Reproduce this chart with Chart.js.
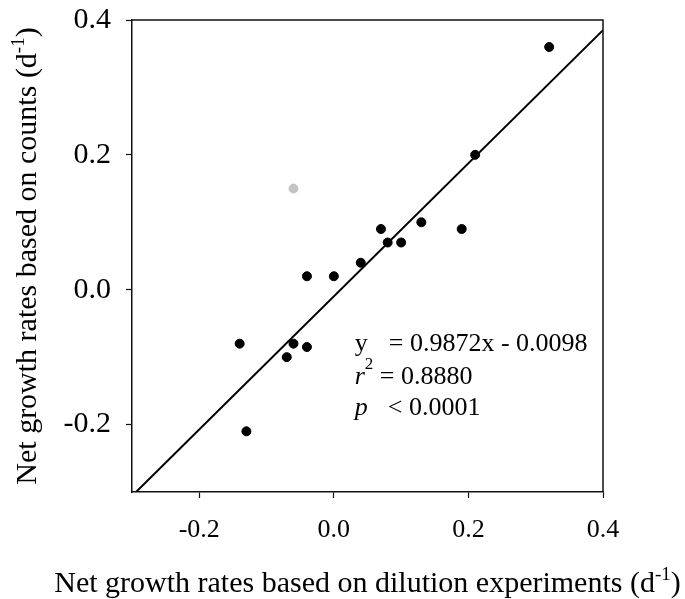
<!doctype html>
<html lang="en">
    <head>
        <meta charset="UTF-8" />
        <title>Net growth rates: counts vs dilution experiments</title>
        <script src="https://cdn.jsdelivr.net/npm/chart.js@4"></script>
        <style>
            body {
                margin: 0;
                background: #fff;
            }

            #wrap {
                width: 685px;
                height: 599px;
            }
        </style>
    </head>
    <body>
        <div id="wrap"><canvas id="chart"></canvas></div>

        <script>
            // values
            const dilutionRates = [
                0.32, 0.21, 0.07, 0.13, 0.19, 0.08, 0.1, 0.04, -0.04, 0.0,
                -0.14, -0.06, -0.04, -0.07, -0.13,
            ];
            const countRates = [
                0.36, 0.2, 0.09, 0.1, 0.09, 0.07, 0.07, 0.04, 0.02, 0.02,
                -0.08, -0.08, -0.085, -0.1, -0.21,
            ];

            // the grey (excluded) point
            const outlierX = [-0.06];
            const outlierY = [0.15];

            // fitted line end points, y = 0.9872x - 0.0098
            const fitX = [-0.294, 0.4];
            const fitY = [-0.3, 0.385];

            const xTicks = [-0.2, 0.0, 0.2, 0.4];
            const yTicks = [-0.2, 0.0, 0.2, 0.4];

            const xTitle = "Net growth rates based on dilution experiments (d";
            const yTitle = "Net growth rates based on counts (d";
            const unitSup = "-1";

            /*** * * ***/

            const serif = "'Liberation Serif', 'Times New Roman', serif";

            const toPoints = (xs, ys) => xs.map((x, i) => ({ x: x, y: ys[i] }));

            // draws a run of text pieces centred on (0, 0) of the current transform
            function drawRun(ctx, parts) {
                let total = 0;
                parts.forEach((p) => {
                    ctx.font = p.font;
                    p.w = ctx.measureText(p.text).width;
                    total += p.w;
                });
                let x = -total / 2;
                parts.forEach((p) => {
                    ctx.font = p.font;
                    ctx.fillText(p.text, x, p.dy || 0);
                    x += p.w;
                });
            }

            // closes the frame (top and right sides) and writes axis titles
            const frame = {
                id: "frame",
                afterDatasetsDraw(chart) {
                    const { ctx, chartArea: a } = chart;
                    ctx.save();
                    ctx.strokeStyle = "#111";
                    ctx.lineWidth = 1.5;
                    ctx.beginPath();
                    ctx.moveTo(a.left, a.top);
                    ctx.lineTo(a.right, a.top);
                    ctx.lineTo(a.right, a.bottom);
                    ctx.stroke();

                    ctx.fillStyle = "#000";
                    ctx.textBaseline = "alphabetic";
                    ctx.textAlign = "left";

                    const big = "30px " + serif;
                    const sup = "19px " + serif;

                    ctx.save();
                    ctx.translate((a.left + a.right) / 2, 592);
                    drawRun(ctx, [
                        { text: xTitle, font: big },
                        { text: unitSup, font: sup, dy: -12 },
                        { text: ")", font: big },
                    ]);
                    ctx.restore();

                    ctx.save();
                    ctx.translate(36, (a.top + a.bottom) / 2);
                    ctx.rotate(-Math.PI / 2);
                    drawRun(ctx, [
                        { text: yTitle, font: big },
                        { text: unitSup, font: sup, dy: -12 },
                        { text: ")", font: big },
                    ]);
                    ctx.restore();

                    ctx.restore();
                },
            };

            // regression statistics written inside the plot
            const stats = {
                id: "stats",
                afterDatasetsDraw(chart) {
                    const { ctx, scales } = chart;
                    const x0 = scales.x.getPixelForValue(0.031);
                    const rows = [-0.081, -0.13, -0.175].map((v) =>
                        scales.y.getPixelForValue(v),
                    );
                    const normal = "26px " + serif;
                    const italic = "italic 26px " + serif;
                    const small = "17px " + serif;

                    ctx.save();
                    ctx.fillStyle = "#000";
                    ctx.textBaseline = "middle";
                    ctx.textAlign = "left";

                    ctx.font = normal;
                    ctx.fillText("y", x0, rows[0]);
                    ctx.fillText("= 0.9872x - 0.0098", x0 + 34, rows[0]);

                    ctx.font = italic;
                    ctx.fillText("r", x0, rows[1]);
                    ctx.font = small;
                    ctx.fillText("2", x0 + 10, rows[1] - 13);
                    ctx.font = normal;
                    ctx.fillText("= 0.8880", x0 + 25, rows[1]);

                    ctx.font = italic;
                    ctx.fillText("p", x0, rows[2]);
                    ctx.font = normal;
                    ctx.fillText("< 0.0001", x0 + 33, rows[2]);
                    ctx.restore();
                },
            };

            const axisBase = {
                type: "linear",
                min: -0.3,
                max: 0.4,
                border: { display: true, color: "#111", width: 1.5 },
                grid: {
                    display: true,
                    drawOnChartArea: false,
                    drawTicks: true,
                    tickLength: 6,
                    tickWidth: 1.2,
                    tickColor: "#111",
                },
                title: { display: false },
            };

            new Chart(document.getElementById("chart"), {
                type: "scatter",
                data: {
                    datasets: [
                        {
                            label: "fit",
                            type: "line",
                            data: toPoints(fitX, fitY),
                            borderColor: "#000",
                            borderWidth: 2,
                            pointRadius: 0,
                            fill: false,
                            order: 3,
                        },
                        {
                            label: "counts",
                            data: toPoints(dilutionRates, countRates),
                            backgroundColor: "#000",
                            borderColor: "#000",
                            pointRadius: 4.5,
                            order: 1,
                        },
                        {
                            label: "excluded",
                            data: toPoints(outlierX, outlierY),
                            backgroundColor: "#c4c4c4",
                            borderColor: "#c4c4c4",
                            pointRadius: 4.5,
                            order: 2,
                        },
                    ],
                },
                options: {
                    responsive: true,
                    maintainAspectRatio: false,
                    animation: false,
                    layout: {
                        padding: { left: 0, right: 82, top: 20, bottom: 0 },
                    },
                    plugins: {
                        legend: { display: false },
                        tooltip: { enabled: false },
                    },
                    scales: {
                        x: {
                            ...axisBase,
                            position: "bottom",
                            afterBuildTicks: (s) => {
                                s.ticks = xTicks.map((v) => ({ value: v }));
                            },
                            afterFit: (s) => {
                                s.height = 107;
                                s.paddingLeft = 0;
                                s.paddingRight = 0;
                            },
                            ticks: {
                                color: "#000",
                                font: { family: serif, size: 26 },
                                padding: 17,
                                maxRotation: 0,
                                callback: (v) => v.toFixed(1),
                            },
                        },
                        y: {
                            ...axisBase,
                            position: "left",
                            afterBuildTicks: (s) => {
                                s.ticks = yTicks.map((v) => ({ value: v }));
                            },
                            afterFit: (s) => {
                                s.width = 132;
                                s.paddingTop = 0;
                                s.paddingBottom = 0;
                            },
                            ticks: {
                                color: "#000",
                                font: { family: serif, size: 30 },
                                padding: 15,
                                callback: (v) => v.toFixed(1),
                            },
                        },
                    },
                },
                plugins: [frame, stats],
            });
        </script>
    </body>
</html>
